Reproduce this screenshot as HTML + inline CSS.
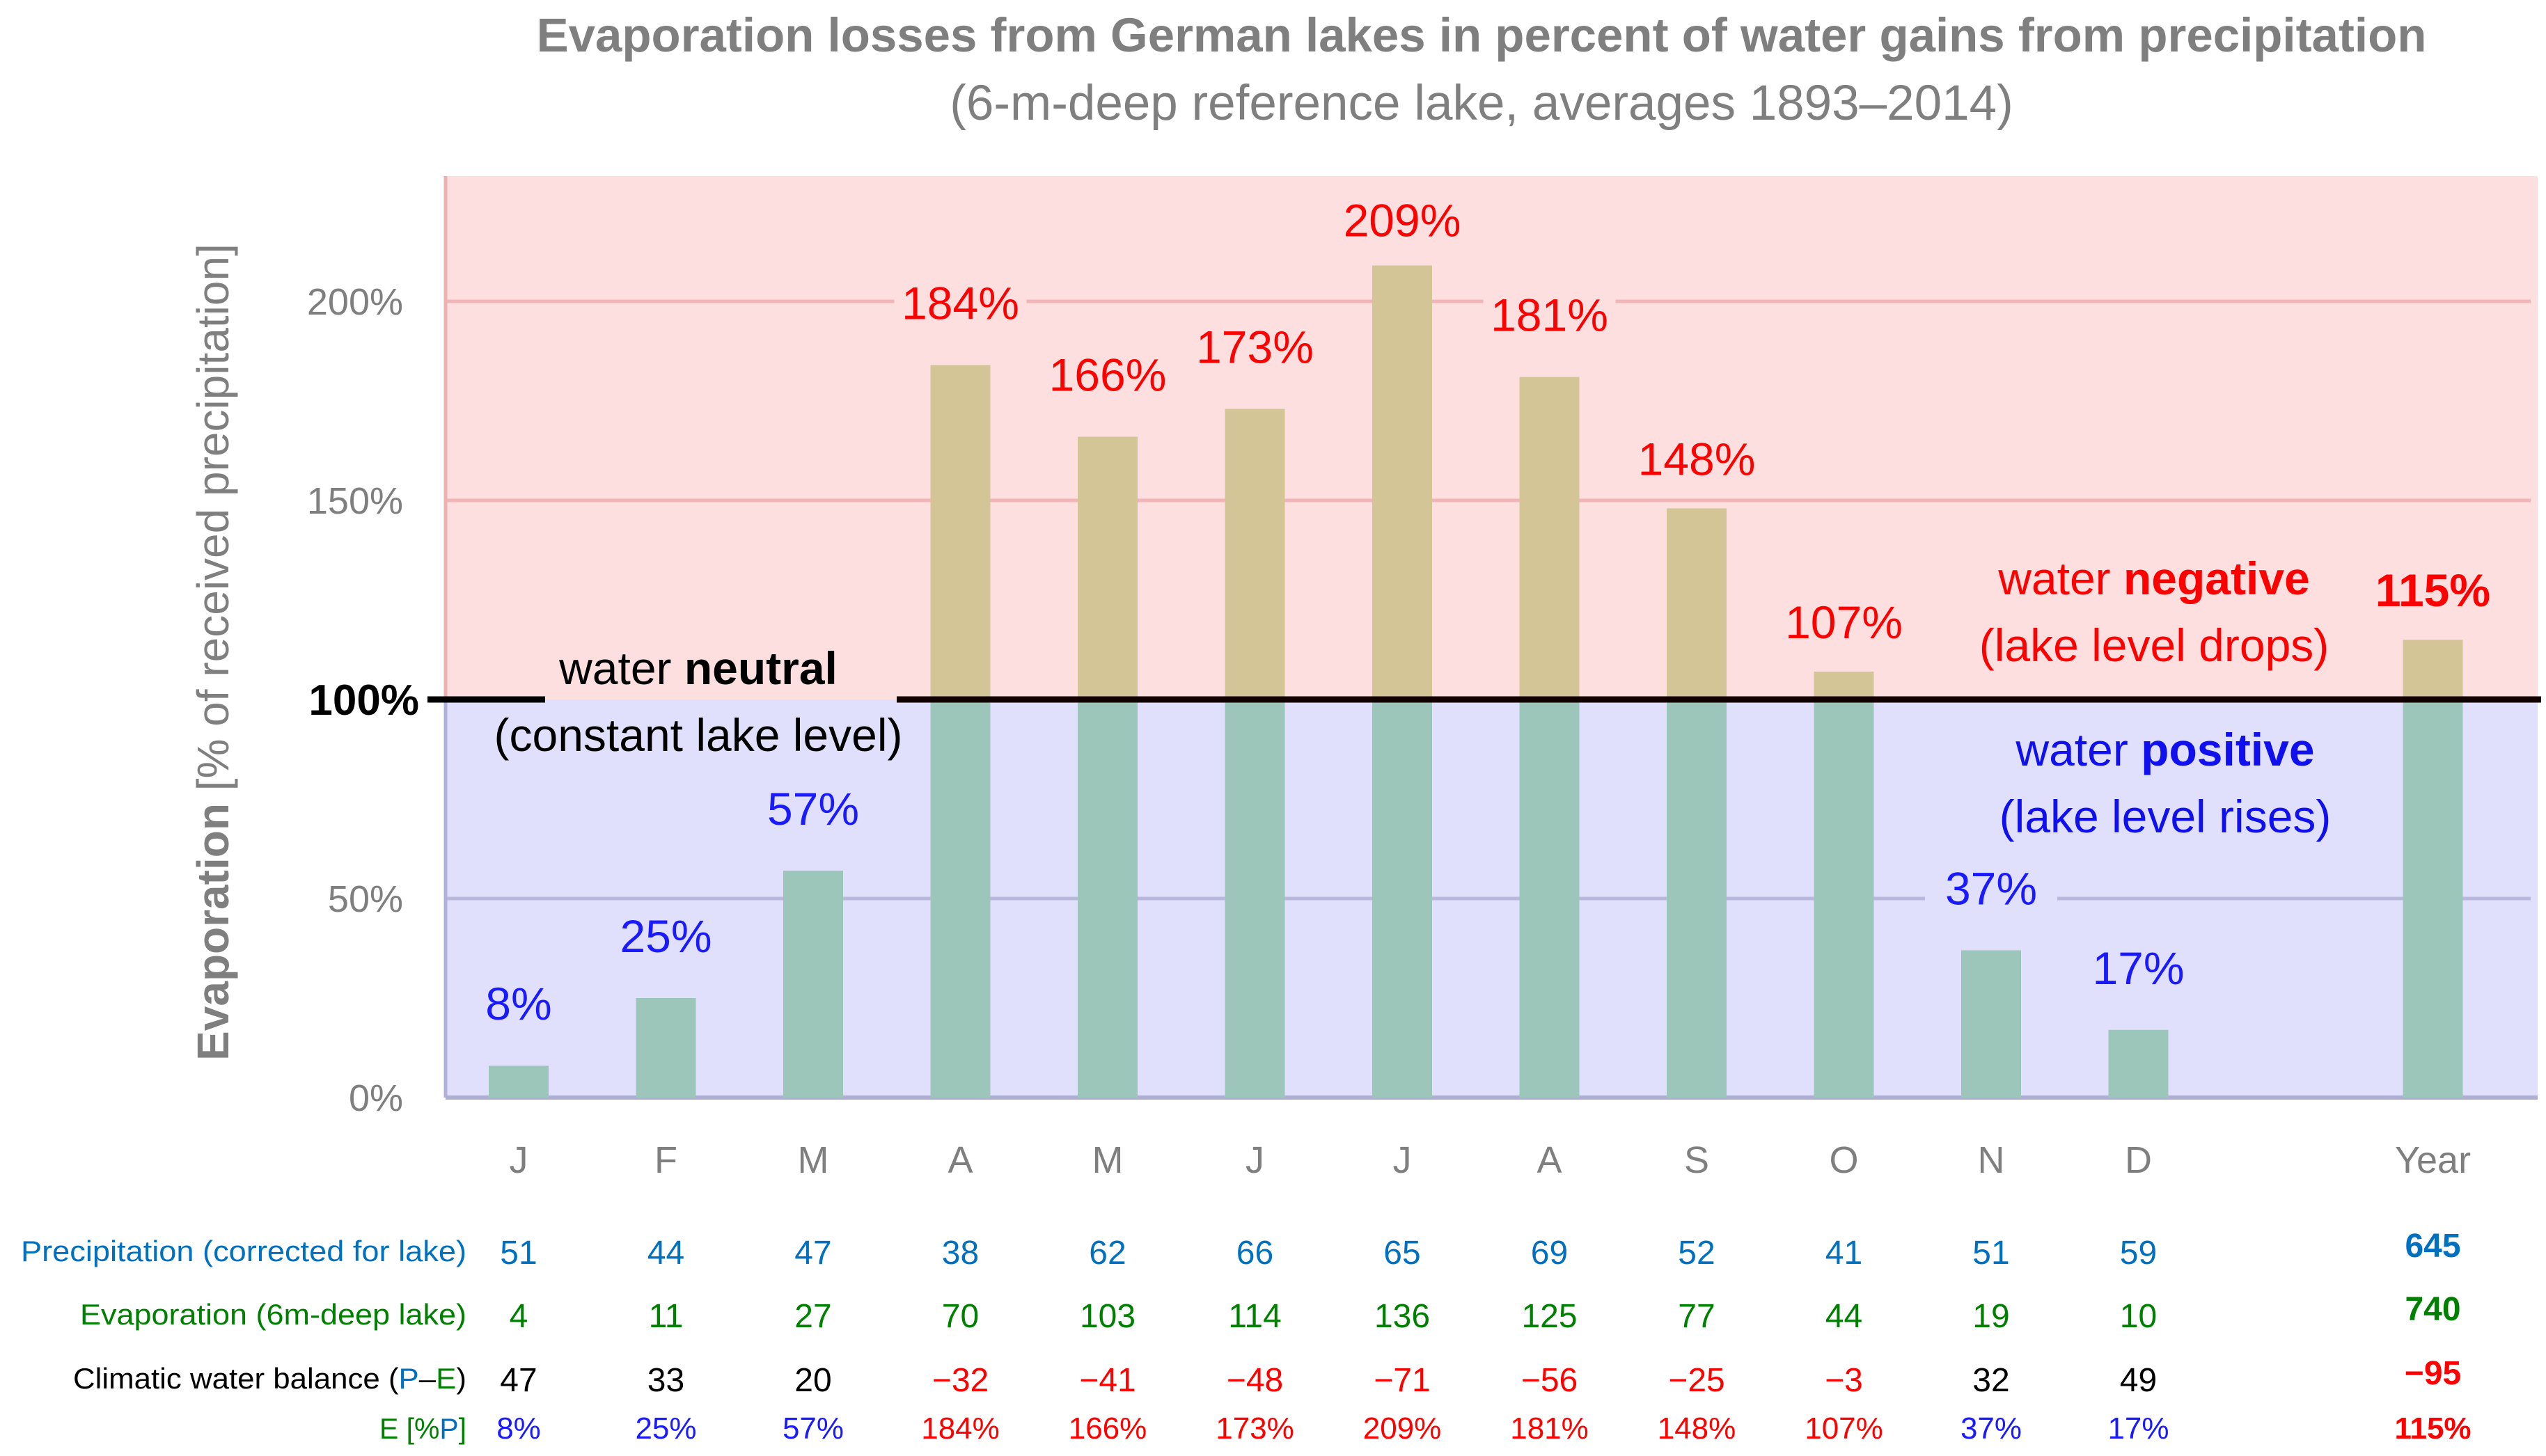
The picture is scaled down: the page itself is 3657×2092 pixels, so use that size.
<!DOCTYPE html>
<html><head><meta charset="utf-8"><style>
html,body{margin:0;padding:0;background:#fff;}
svg{display:block;font-family:"Liberation Sans",sans-serif;}
</style></head><body>
<svg id="chart" width="3657" height="2092" viewBox="0 0 3657 2092">
<g id="bg"></g><g id="grid"></g><g id="bars"></g><g id="labels"></g><g id="table"></g>
</svg>
<script>
const months=["J","F","M","A","M","J","J","A","S","O","N","D","Year"];
const slots=[0,1,2,3,4,5,6,7,8,9,10,11,13];
const epct=[8,25,57,184,166,173,209,181,148,107,37,17,115];
const precip=[51,44,47,38,62,66,65,69,52,41,51,59,645];
const evap=[4,11,27,70,103,114,136,125,77,44,19,10,740];
const balance=[47,33,20,-32,-41,-48,-71,-56,-25,-3,32,49,-95];
const yticks=[0,50,150,200];
const NS="http://www.w3.org/2000/svg";
const L=640,R=3645,T=253,Y0=1577,PX=5.72;
const y=v=>Y0-v*PX;
const x=s=>745+s*211.5;
function mk(tag,attrs,parent,txt){const e=document.createElementNS(NS,tag);for(const k in attrs)e.setAttribute(k,attrs[k]);if(txt!==undefined)e.textContent=txt;document.getElementById(parent).appendChild(e);return e;}
let e=mk('rect',{x:L,y:T,width:R-L,height:y(100)-T,fill:'#fddfe0'},'bg');

e=mk('rect',{x:L,y:y(100),width:R-L,height:Y0-y(100),fill:'#e0e0fc'},'bg');

e=mk('text',{x:2128,y:74,'text-anchor':'middle','font-size':69,'font-weight':'bold',fill:'#7f7f7f'},'bg','Evaporation losses from German lakes in percent of water gains from precipitation');

e=mk('text',{x:2128,y:172,'text-anchor':'middle','font-size':71,fill:'#7f7f7f'},'bg','(6-m-deep reference lake, averages 1893–2014)');

e=mk('text',{x:0,y:0,'text-anchor':'middle','font-size':64,fill:'#7f7f7f',transform:'translate(328,937) rotate(-90)'},'bg');

e.innerHTML='<tspan font-weight="bold">Evaporation</tspan> [% of received precipitation]';
yticks.forEach(v=>{
 const g=mk('line',{x1:L,x2:R-10,y1:y(v),y2:y(v),stroke:v>100?'#f2b4b6':'#b9b8dc','stroke-width':5},'grid');
 
 const t=mk('text',{x:579,y:y(v)+19,'text-anchor':'end','font-size':54,fill:'#7f7f7f'},'grid',v+'%');
 
});
e=mk('text',{x:602,y:y(100)+22,'text-anchor':'end','font-size':62,'font-weight':'bold',fill:'#000'},'grid','100%');

e=mk('line',{x1:L,x2:L,y1:T,y2:y(100),stroke:'#eab0b2','stroke-width':5},'grid');

e=mk('line',{x1:L,x2:L,y1:y(100),y2:Y0,stroke:'#b0b0d8','stroke-width':5},'grid');

e=mk('line',{x1:L,x2:R,y1:Y0,y2:Y0,stroke:'#aeaed2','stroke-width':6},'grid');

const BW=86;
months.forEach((m,i)=>{
 const cx=x(slots[i]),v=epct[i];
 const low=Math.min(v,100);
 let b=mk('rect',{x:cx-BW/2,y:y(low),width:BW,height:Y0-y(low),fill:'#9dc6bb'},'bars');
 
 if(v>100){b=mk('rect',{x:cx-BW/2,y:y(v),width:BW,height:y(100)-y(v),fill:'#d3c596'},'bars');
 }
 const col=v>100?'#ff0000':'#1a1aff';
 const ly=y(v)-(v>100&&v<160?62:(v>200?56:80));
 const bgc=v>100?'#fddfe0':'#e0e0fc';
 const r=mk('rect',{x:cx-95,y:ly-52,width:190,height:70,fill:bgc},'labels');
 
 const t=mk('text',{x:cx,y:ly+14,'text-anchor':'middle','font-size':66,fill:col,'font-weight':i==12?'bold':'normal'},'labels',v+'%');
 
 const xl=mk('text',{x:cx,y:1685,'text-anchor':'middle','font-size':54,fill:'#7f7f7f'},'labels',m);
 
});
e=mk('line',{x1:614,x2:783,y1:y(100),y2:y(100),stroke:'#000','stroke-width':9},'labels');

e=mk('line',{x1:1288,x2:3650,y1:y(100),y2:y(100),stroke:'#120000','stroke-width':9},'labels');

function ann(txt,xx,yy,col,name){const t=mk('text',{x:xx,y:yy,'text-anchor':'middle','font-size':66,fill:col},'labels');t.innerHTML=txt;}
ann('water <tspan font-weight="bold">neutral</tspan>',1003,983,'#000','neutral-annotation');
ann('(constant lake level)',1003,1079,'#000','neutral-subannotation');
ann('water <tspan font-weight="bold">negative</tspan>',3094,854,'#ff0000','negative-annotation');
ann('(lake level drops)',3094,950,'#ff0000','negative-subannotation');
ann('water <tspan font-weight="bold">positive</tspan>',3110,1100,'#1010ee','positive-annotation');
ann('(lake level rises)',3110,1196,'#1010ee','positive-subannotation');
const rows=[
 {label:'Precipitation (corrected for lake)',vals:precip,y:1798,lc:'#0070c0',vc:()=> '#0070c0',tl:640},
 {label:'Evaporation (6m-deep lake)',vals:evap,y:1889,lc:'#008000',vc:()=> '#008000',tl:555},
 {label:'Climatic water balance (P–E)',vals:balance,y:1981,lc:'#000',vc:v=>v<0?'#ff0000':'#000',tl:565},
 {label:'E [%P]',vals:epct,y:2053,lc:'#008000',vc:v=>v>100?'#ff0000':'#1a1aff',pct:true,tl:125}
];
rows.forEach((r,ri)=>{
 const t=mk('text',{x:670,y:r.y+14,'text-anchor':'end','font-size':42,fill:r.lc,textLength:r.tl,lengthAdjust:'spacingAndGlyphs'},'table');
 
 if(ri==2)t.innerHTML='Climatic water balance (<tspan fill="#0070c0">P</tspan>–<tspan fill="#008000">E</tspan>)';
 else if(ri==3)t.innerHTML='E [%<tspan fill="#0070c0">P</tspan>]';
 else t.textContent=r.label;
 r.vals.forEach((v,i)=>{
  const s=(v<0?'−'+(-v):''+v)+(r.pct?'%':'');
  const c=mk('text',{x:x(slots[i]),y:r.y+(r.pct?14:18)-(i==12&&!r.pct?10:0),'text-anchor':'middle','font-size':r.pct?44:48,fill:r.vc(v),'font-weight':i==12?'bold':'normal'},'table',s);
  
 });
});
</script>
</body></html>
